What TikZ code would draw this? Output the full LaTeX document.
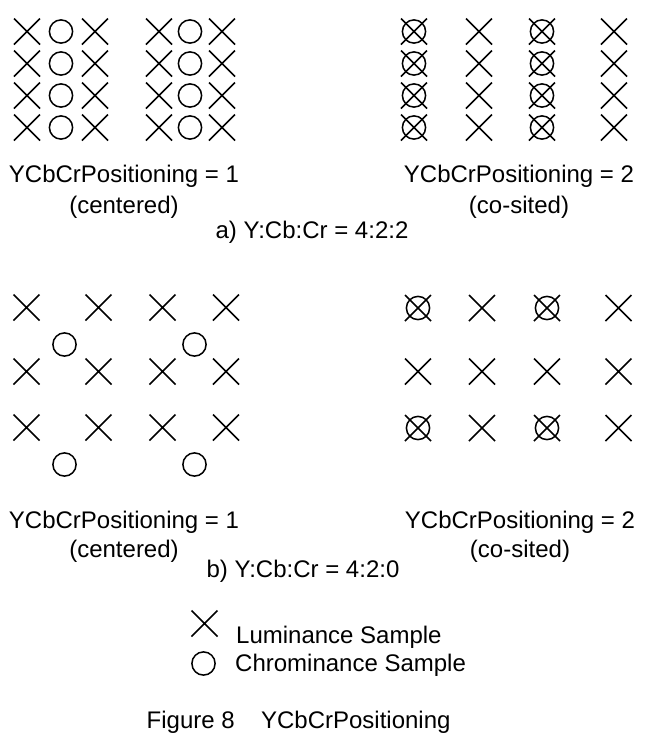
\documentclass[tikz,border=0pt]{standalone}
\usepackage{fontspec}
\setmainfont{Liberation Sans}
\usetikzlibrary{shapes.misc, positioning}

\begin{document}
\begin{tikzpicture}[x=1pt, y=-1pt, font=\fontsize{24}{29}\selectfont,
    luma/.style={draw, cross out, minimum size=24.5pt, inner sep=0pt, line width=1.5pt},
    chroma/.style={draw, circle, minimum size=23.2pt, inner sep=0pt, line width=1.5pt},
    lbl/.style={anchor=base, inner sep=0pt}]

    \useasboundingbox (0,0) rectangle (658,748);

    \foreach \r in {0,...,3} {
        \foreach \x/\k in {27/a, 95/b, 159/c, 222/d}
            \node[luma] (ya\k\r) at (\x, 31.5+32*\r) {};
        \foreach \x/\k in {61/a, 190/b}
            \node[chroma] (ca\k\r) at (\x, 31.5+32*\r) {};
        \foreach \x/\k in {414/a, 479/b, 542/c, 614/d}
            \node[luma] (yb\k\r) at (\x, 31.5+32*\r) {};
        \foreach \x/\k in {414/a, 542/c}
            \node[chroma] (cb\k\r) at (\x, 31.5+32*\r) {};
    }

    \node[lbl] (posa1) at (124,182) {YCbCrPositioning = 1};
    \node[lbl] (cena) at (124,213) {(centered)};
    \node[lbl] (posa2) at (519,182) {YCbCrPositioning = 2};
    \node[lbl] (cosa) at (519,213) {(co-sited)};
    \node[lbl] (capa) at (312,238) {a) Y:Cb:Cr = 4:2:2};

    \foreach \y/\r in {307.5/0, 371.5/1, 427.5/2} {
        \foreach \x/\k in {26.5/a, 98.5/b, 162.5/c, 226/d}
            \node[luma] (yc\k\r) at (\x,\y) {};
    }
    \foreach \y/\r in {344.5/0, 464.5/1} {
        \foreach \x/\k in {64.5/a, 194.5/b}
            \node[chroma] (cc\k\r) at (\x,\y) {};
    }

    \foreach \y/\r in {308/0, 371.5/1, 428/2} {
        \foreach \x/\k in {418/a, 482/b, 547/c, 618.5/d}
            \node[luma] (yd\k\r) at (\x,\y) {};
    }
    \foreach \y/\r in {308/0, 428/2} {
        \foreach \x/\k in {418/a, 547/c}
            \node[chroma] (cd\k\r) at (\x,\y) {};
    }

    \node[lbl] (posb1) at (124,528) {YCbCrPositioning = 1};
    \node[lbl] (cenb) at (124,557) {(centered)};
    \node[lbl] (posb2) at (520,528) {YCbCrPositioning = 2};
    \node[lbl] (cosb) at (520,557) {(co-sited)};
    \node[lbl] (capb) at (303,577) {b) Y:Cb:Cr = 4:2:0};

    \node[luma] (keyy) at (204.5,623.5) {};
    \node[chroma] (keyc) at (203.5,663.5) {};
    \node[lbl, anchor=base west] (keyyt) at (236,643) {Luminance Sample};
    \node[lbl, anchor=base west] (keyct) at (235,671) {Chrominance Sample};

    \node[lbl, anchor=base west] (fig) at (146.5,728) {Figure 8\hspace{1.1em}YCbCrPositioning};
\end{tikzpicture}
\end{document}
